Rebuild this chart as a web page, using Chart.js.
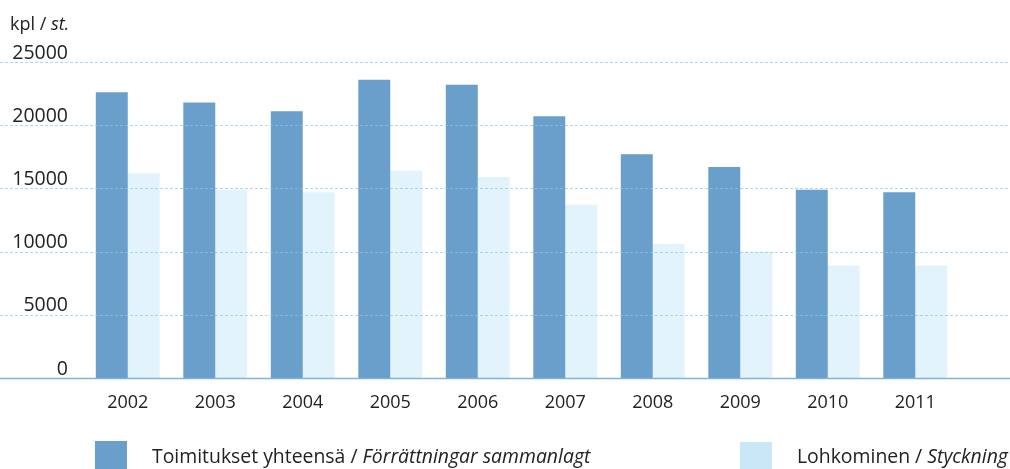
<!DOCTYPE html>
<html>
<head>
<meta charset="utf-8">
<script src="https://cdn.jsdelivr.net/npm/chart.js@4.4.1/dist/chart.umd.min.js"></script>
<style>
  html, body { margin: 0; padding: 0; background: #ffffff; overflow: hidden; }
  #wrap { position: relative; width: 1010px; height: 469px; overflow: hidden; font-family: "Open Sans", "Noto Sans", sans-serif; color: #222; }
  #c { position: absolute; left: 0; top: 0; }
  .unit { position: absolute; left: 10px; top: 11px; font-size: 18px; line-height: 24px; }
  .leg { position: absolute; font-size: 19.4px; line-height: 24px; white-space: nowrap; }
  .sw { position: absolute; width: 32px; height: 30px; }
</style>
</head>
<body>
<div id="wrap">
  <canvas id="c" width="1010" height="469"></canvas>
  <div class="unit">kpl / <i>st.</i></div>
  <div class="sw" style="left:95px; top:441px; background:#6a9ecb;"></div>
  <div class="leg" style="left:152px; top:444px;">Toimitukset yhteensä / <i>Förrättningar sammanlagt</i></div>
  <div class="sw" style="left:740px; top:442px; background:#c9e7f6;"></div>
  <div class="leg" style="left:797px; top:444px;">Lohkominen / <i>Styckning</i></div>
</div>
<script>
const years = ['2002','2003','2004','2005','2006','2007','2008','2009','2010','2011'];
const totalValues = [22600, 21800, 21100, 23600, 23200, 20700, 17700, 16700, 14900, 14700];
const subdivisionValues = [16200, 14900, 14700, 16400, 15900, 13700, 10600, 10000, 8900, 8900];
const yTickValues = [0, 5000, 10000, 15000, 20000, 25000];

const fullGrid = {
  id: 'fullGrid',
  afterDatasetsDraw(chart) {
    const { ctx, scales: { y } } = chart;
    ctx.save();
    yTickValues.forEach(v => {
      const py = Math.round(y.getPixelForValue(v)) + 0.5;
      ctx.beginPath();
      if (v === 0) {
        ctx.setLineDash([]);
        ctx.strokeStyle = '#7fb3d8';
        ctx.lineWidth = 1.5;
      } else {
        ctx.setLineDash([3, 2]);
        ctx.strokeStyle = 'rgba(140,200,230,0.7)';
        ctx.lineWidth = 1;
      }
      ctx.moveTo(0, py);
      ctx.lineTo(chart.width, py);
      ctx.stroke();
    });
    ctx.restore();
  }
};

new Chart(document.getElementById('c'), {
  type: 'bar',
  data: {
    labels: years,
    datasets: [
      { label: 'Toimitukset yhteensä / Förrättningar sammanlagt', data: totalValues, backgroundColor: '#6a9ecb', borderWidth: 0 },
      { label: 'Lohkominen / Styckning', data: subdivisionValues, backgroundColor: '#e2f3fb', borderWidth: 0 }
    ]
  },
  options: {
    responsive: false,
    animation: false,
    devicePixelRatio: 1,
    layout: { padding: { top: 62, right: 51, bottom: 0, left: 0 } },
    datasets: { bar: { barPercentage: 1.0, categoryPercentage: 0.73 } },
    plugins: { legend: { display: false }, tooltip: { enabled: false } },
    scales: {
      x: {
        grid: { display: false, drawTicks: false },
        border: { display: false },
        ticks: { color: '#222', font: { family: 'Open Sans', size: 18 }, padding: 14, maxRotation: 0 },
        afterFit(scale) { scale.height = 91; }
      },
      y: {
        min: 0, max: 25000,
        grid: { display: false, drawTicks: false },
        border: { display: false },
        afterBuildTicks(scale) { scale.ticks = yTickValues.map(v => ({ value: v })); },
        ticks: {
          color: '#222', font: { family: 'Open Sans', size: 19.5 }, padding: 16, labelOffset: -9,
          callback: (v) => String(v)
        },
        afterFit(scale) { scale.width = 84; }
      }
    }
  },
  plugins: [fullGrid]
});
</script>
</body>
</html>
